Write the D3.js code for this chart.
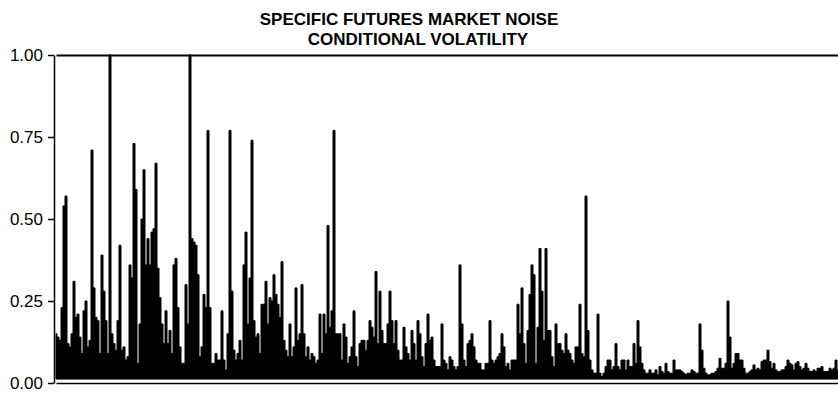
<!DOCTYPE html>
<html>
<head>
<meta charset="utf-8">
<script src="https://cdn.jsdelivr.net/npm/d3@7"></script>
<style>
  body { margin: 0; background: #fff; }
  svg { display: block; }
  text { font-family: "Liberation Sans", Arial, sans-serif; fill: #000; }
</style>
</head>
<body>
<svg id="chart" width="838" height="400"></svg>
<script>
// title lines and y ticks
const titleLines = ['SPECIFIC FUTURES MARKET NOISE', 'CONDITIONAL VOLATILITY'];
const yTicks = [0, 0.25, 0.5, 0.75, 1];

// conditional volatility in consecutive stretches
const volA = [0.15, 0.14, 0.13, 0.23, 0.54, 0.57, 0.12, 0.11, 0.15, 0.31,
  0.20, 0.21, 0.14, 0.09, 0.22, 0.25, 0.11, 0.13, 0.71, 0.29,
  0.20, 0.19, 0.09, 0.39, 0.28, 0.19, 0.09, 1.00, 0.15, 0.12,
  0.10, 0.19, 0.42, 0.10, 0.11, 0.07, 0.08, 0.36, 0.32, 0.73,
  0.59, 0.06, 0.18, 0.50, 0.65, 0.36, 0.44, 0.36, 0.46, 0.47,
  0.67, 0.35, 0.26, 0.18, 0.12, 0.22, 0.12, 0.16, 0.09, 0.36,
  0.38, 0.23, 0.11, 0.06, 0.06, 0.30, 0.18, 1.00, 0.44, 0.43,
  0.42, 0.33];
const volB = [0.08, 0.11, 0.27, 0.23, 0.77, 0.23, 0.06, 0.06, 0.09, 0.07,
  0.07, 0.22, 0.07, 0.04, 0.15, 0.77, 0.28, 0.10, 0.07, 0.09,
  0.13, 0.07, 0.36, 0.46, 0.18, 0.32, 0.74, 0.19, 0.14, 0.15,
  0.09, 0.24, 0.24, 0.31, 0.18, 0.26, 0.25, 0.33, 0.27, 0.24,
  0.20, 0.37, 0.13, 0.10, 0.08, 0.18, 0.08, 0.11, 0.29, 0.13,
  0.15, 0.30, 0.15, 0.08, 0.11, 0.07, 0.09, 0.08, 0.06, 0.07,
  0.21, 0.09, 0.21, 0.15, 0.48, 0.17, 0.22, 0.77, 0.15, 0.15,
  0.15];
const volC = [0.07, 0.18, 0.14, 0.06, 0.08, 0.11, 0.22, 0.08, 0.05, 0.12,
  0.13, 0.13, 0.10, 0.13, 0.19, 0.17, 0.14, 0.34, 0.12, 0.28,
  0.16, 0.12, 0.12, 0.18, 0.28, 0.19, 0.12, 0.19, 0.10, 0.07,
  0.07, 0.17, 0.11, 0.09, 0.07, 0.16, 0.12, 0.07, 0.19, 0.15,
  0.08, 0.05, 0.12, 0.21, 0.13, 0.14, 0.07, 0.05, 0.05, 0.05,
  0.18, 0.07, 0.06, 0.04, 0.08, 0.07, 0.05, 0.04, 0.05, 0.36,
  0.18, 0.07, 0.05, 0.12, 0.13, 0.15, 0.11, 0.07, 0.06, 0.06];
const volD = [0.04, 0.04, 0.06, 0.06, 0.19, 0.07, 0.06, 0.07, 0.08, 0.09,
  0.15, 0.11, 0.05, 0.06, 0.04, 0.07, 0.07, 0.07, 0.24, 0.15,
  0.29, 0.12, 0.06, 0.16, 0.27, 0.36, 0.33, 0.06, 0.17, 0.41,
  0.28, 0.13, 0.41, 0.16, 0.16, 0.08, 0.05, 0.18, 0.12, 0.12,
  0.10, 0.09, 0.15, 0.10, 0.09, 0.07, 0.06, 0.11, 0.11, 0.24,
  0.09, 0.08, 0.57, 0.16, 0.07, 0.04, 0.03, 0.03, 0.21, 0.03,
  0.02, 0.03, 0.05, 0.07, 0.07, 0.04, 0.05, 0.12, 0.05, 0.04];
const volE = [0.07, 0.07, 0.04, 0.07, 0.05, 0.05, 0.12, 0.06, 0.19, 0.11,
  0.06, 0.04, 0.03, 0.03, 0.04, 0.03, 0.03, 0.04, 0.025, 0.05,
  0.035, 0.03, 0.06, 0.035, 0.03, 0.03, 0.07, 0.04, 0.04, 0.04,
  0.035, 0.03, 0.025, 0.03, 0.03, 0.04, 0.035, 0.03, 0.03, 0.18,
  0.10, 0.045, 0.03, 0.025, 0.025, 0.03, 0.03, 0.035, 0.045, 0.075,
  0.045, 0.045, 0.06, 0.25, 0.14, 0.045, 0.06, 0.09, 0.09, 0.07,
  0.07, 0.045, 0.03, 0.03, 0.035, 0.04, 0.055, 0.04, 0.045, 0.04,
  0.065, 0.07, 0.07, 0.10, 0.065, 0.045, 0.06, 0.04, 0.035, 0.035,
  0.04, 0.04, 0.05, 0.07, 0.06, 0.055, 0.04, 0.06, 0.065, 0.05,
  0.04, 0.045, 0.06, 0.045, 0.035, 0.035, 0.04, 0.035, 0.045, 0.045,
  0.05, 0.035, 0.035, 0.035, 0.045, 0.04, 0.045, 0.07, 0.04];
const vol = volA.concat(volB, volC, volD, volE);
const floorVal = 0.012; // lowest level the series touches

const svg = d3.select('#chart');
const width = +svg.attr('width');

const margin = { top: 55, right: 0, bottom: 17, left: 55 };

const x = d3.scaleLinear()
  .domain([0, vol.length - 1])
  .range([margin.left + 1, width]);
const y = d3.scaleLinear()
  .domain([0, 1])
  .range([383, margin.top]);

// title (second line sits a little right of the first, as in the original)
svg.append('text')
  .attr('x', 409)
  .attr('y', 25)
  .attr('text-anchor', 'middle')
  .style('font-size', '17px')
  .style('font-weight', 'bold')
  .text(titleLines[0]);
svg.append('text')
  .attr('x', 418)
  .attr('y', 45)
  .attr('text-anchor', 'middle')
  .style('font-size', '17px')
  .style('font-weight', 'bold')
  .text(titleLines[1]);

// series
const area = d3.area()
  .x((d, i) => x(i))
  .y0(y(floorVal))
  .y1(d => y(Math.min(d, 1)))
  .curve(d3.curveStep);

svg.append('path')
  .datum(vol)
  .attr('d', area)
  .attr('fill', '#000')
  .attr('stroke', '#000')
  .attr('stroke-width', 1);

// top frame line
svg.append('g')
  .attr('transform', `translate(0, ${margin.top})`)
  .call(d3.axisTop(x).tickValues([]).tickSizeOuter(0))
  .call(g => g.select('.domain').attr('stroke-width', 2.2));

// bottom axis line
svg.append('g')
  .attr('transform', `translate(0, ${y(0)})`)
  .call(d3.axisBottom(x).tickValues([]).tickSizeOuter(0))
  .call(g => g.select('.domain').attr('stroke-width', 1.5));

// y axis
svg.append('g')
  .attr('transform', `translate(${margin.left - 1}, 0)`)
  .call(d3.axisLeft(y).tickValues(yTicks).tickFormat(d3.format('.2f')).tickSize(6).tickPadding(5).tickSizeOuter(0))
  .call(g => g.select('.domain').attr('stroke-width', 1.5))
  .call(g => g.selectAll('.tick line').attr('stroke-width', 1.5))
  .call(g => g.selectAll('.tick text')
    .style('font-family', '"Liberation Sans", Arial, sans-serif')
    .style('font-size', '17px')
    .attr('fill', '#000'));
</script>
</body>
</html>
